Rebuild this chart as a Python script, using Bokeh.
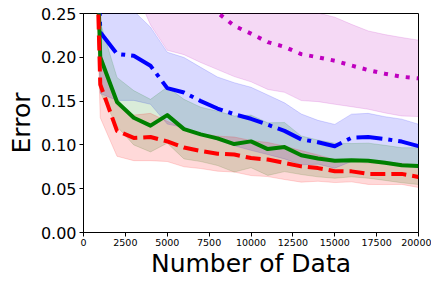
from bokeh.plotting import figure
from bokeh.models import FixedTicker, PrintfTickFormatter, NumeralTickFormatter, Range1d
from bokeh.embed import file_html
from bokeh.resources import INLINE

# ---- data ----
n_data = [100, 1000, 2000, 3000, 4000, 5000, 6000, 7000, 8000, 9000, 10000,
          11000, 12000, 13000, 14000, 15000, 16000, 17000, 18000, 19000, 20000]

green_mean = [0.80, 0.200, 0.149, 0.131, 0.122, 0.134, 0.118, 0.112, 0.1075, 0.101, 0.104,
              0.0952, 0.0975, 0.0882, 0.0845, 0.0820, 0.0825, 0.0820, 0.0795, 0.0768, 0.0758]
green_std = [0.10, 0.040, 0.028, 0.031, 0.030, 0.032, 0.034, 0.031, 0.031, 0.032, 0.030,
             0.030, 0.028, 0.022, 0.021, 0.020, 0.019, 0.020, 0.020, 0.020, 0.021]

red_mean = [0.80, 0.169, 0.116, 0.108, 0.109, 0.104, 0.097, 0.093, 0.090, 0.089, 0.085,
            0.0833, 0.0795, 0.0755, 0.0735, 0.0700, 0.0698, 0.0669, 0.0667, 0.0669, 0.0634]
red_std = [0.10, 0.038, 0.029, 0.026, 0.027, 0.023, 0.022, 0.020, 0.020, 0.020, 0.020,
           0.0195, 0.019, 0.018, 0.015, 0.013, 0.012, 0.012, 0.012, 0.012, 0.012]

blue_mean = [0.90, 0.2286, 0.2038, 0.2018, 0.1904, 0.1648, 0.1598, 0.1500, 0.1415, 0.1350, 0.1298,
             0.1230, 0.1160, 0.1063, 0.1030, 0.0984, 0.1081, 0.1090, 0.1067, 0.1038, 0.0986]
blue_std = [0.15, 0.070, 0.053, 0.051, 0.044, 0.041, 0.040, 0.0385, 0.036, 0.036, 0.036,
            0.034, 0.032, 0.029, 0.025, 0.025, 0.027, 0.027, 0.0255, 0.0256, 0.025]

magenta_mean = [1.00, 0.50, 0.42, 0.36, 0.31, 0.278, 0.270, 0.262, 0.251, 0.236, 0.227,
                0.2173, 0.2120, 0.2036, 0.2000, 0.1961, 0.1906, 0.1854, 0.1812, 0.1778, 0.1760]
magenta_std = [0.15, 0.12, 0.10, 0.08, 0.073, 0.070, 0.067, 0.068, 0.065, 0.058, 0.055,
               0.054, 0.052, 0.053, 0.0506, 0.0497, 0.047, 0.0447, 0.0447, 0.0448, 0.0436]

x_ticks = [0, 2500, 5000, 7500, 10000, 12500, 15000, 17500, 20000]
y_ticks = [0.0, 0.05, 0.10, 0.15, 0.20, 0.25]

FONT = "DejaVu Sans"

p = figure(width=431, height=280, output_backend="svg", toolbar_location=None,
           x_range=Range1d(0, 20000), y_range=Range1d(0, 0.25),
           min_border_left=83, min_border_right=13, min_border_top=13, min_border_bottom=44)
p.background_fill_color = "white"
p.border_fill_color = "white"
p.xgrid.visible = False
p.ygrid.visible = False
p.outline_line_color = "black"
p.outline_line_alpha = 1.0
p.outline_line_width = 1

series = [
    (magenta_mean, magenta_std, "#bf00bf", "4 7"),
    (blue_mean, blue_std, "#0000ff", "26 6 4 6"),
    (green_mean, green_std, "#008000", "solid"),
    (red_mean, red_std, "#ff0000", "15 6"),
]

# bands first
for mean, std, color, dash in series:
    lo = [m - s for m, s in zip(mean, std)]
    hi = [m + s for m, s in zip(mean, std)]
    p.varea(x=n_data, y1=lo, y2=hi, fill_color=color, fill_alpha=0.15)
    p.line(n_data, lo, line_color=color, line_alpha=0.15, line_width=1)
    p.line(n_data, hi, line_color=color, line_alpha=0.15, line_width=1)

# lines on top
for mean, std, color, dash in series:
    p.line(n_data, mean, line_color=color, line_width=4, line_dash=dash,
           line_join="round", line_cap="butt")

for ax in (p.xaxis[0], p.yaxis[0]):
    ax.axis_line_color = "black"
    ax.axis_line_width = 1
    ax.major_tick_line_color = "black"
    ax.major_tick_out = 4
    ax.major_tick_in = 0
    ax.minor_tick_out = 0
    ax.minor_tick_in = 0
    ax.major_label_text_font = FONT
    ax.major_label_text_color = "black"
    ax.axis_label_text_font = FONT
    ax.axis_label_text_color = "black"
    ax.axis_label_text_font_style = "normal"
    ax.axis_label_text_font_size = "25px"

p.xaxis.ticker = FixedTicker(ticks=x_ticks)
p.xaxis.formatter = NumeralTickFormatter(format="0")
p.xaxis.major_label_text_font_size = "9.5px"
p.xaxis.major_label_standoff = 2
p.xaxis.axis_label_standoff = 0
p.xaxis.axis_label = "Number of Data"

p.yaxis.ticker = FixedTicker(ticks=y_ticks)
p.yaxis.formatter = PrintfTickFormatter(format="%.2f")
p.yaxis.major_label_text_font_size = "16px"
p.yaxis.major_label_standoff = 3
p.yaxis.axis_label_standoff = 2
p.yaxis.axis_label = "Error"

open("out.html", "w").write(file_html(p, INLINE))
